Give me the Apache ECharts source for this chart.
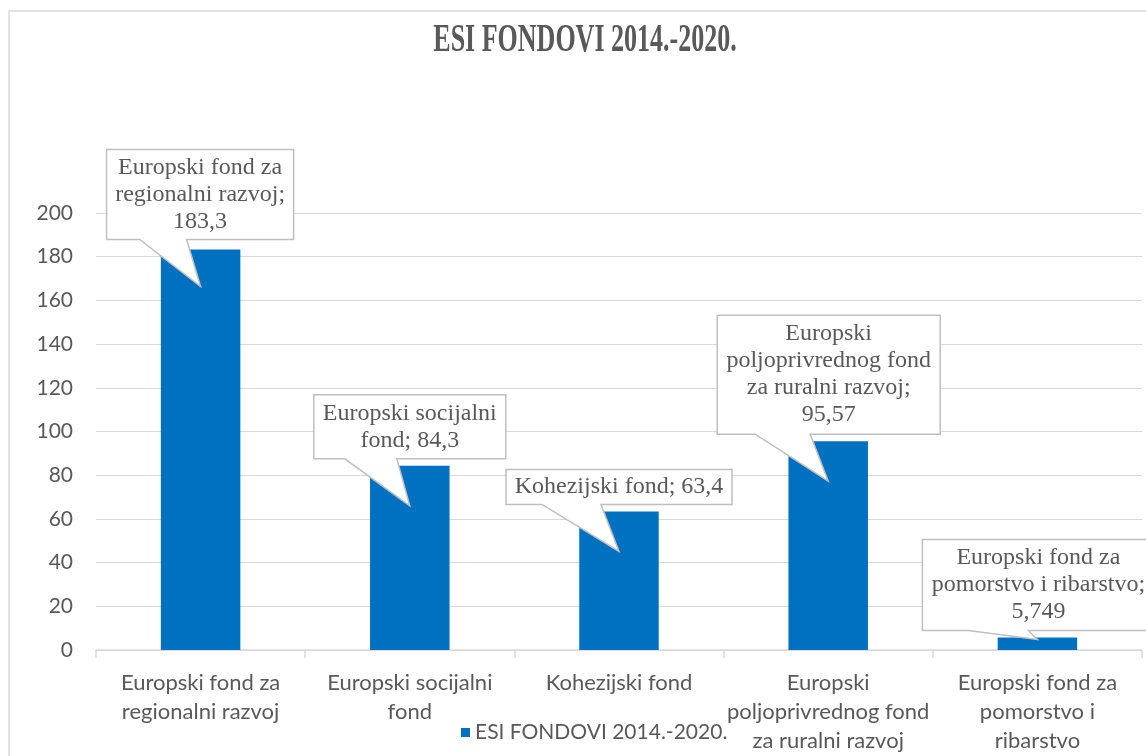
<!DOCTYPE html>
<html>
<head>
<meta charset="utf-8">
<style>
  html, body { margin: 0; padding: 0; background: #ffffff; }
  #chart { width: 1146px; height: 756px; }
</style>
<script src="https://cdn.jsdelivr.net/npm/echarts@6/dist/echarts.min.js"></script>
</head>
<body>
<div id="chart"></div>
<script>
// ---- data ----
const chartTitle = 'ESI FONDOVI 2014.-2020.';
const seriesName = 'ESI FONDOVI 2014.-2020.';
const categories = [
  'Europski fond za regionalni razvoj',
  'Europski socijalni fond',
  'Kohezijski fond',
  'Europski poljoprivrednog fond za ruralni razvoj',
  'Europski fond za pomorstvo i ribarstvo'
];
const tickLabels = [
  'Europski fond za\nregionalni razvoj',
  'Europski socijalni\nfond',
  'Kohezijski fond',
  'Europski\npoljoprivrednog fond\nza ruralni razvoj',
  'Europski fond za\npomorstvo i\nribarstvo'
];
// data-label name parts as wrapped in the callouts (value appended after)
const calloutNames = [
  'Europski fond za\nregionalni razvoj;\n',
  'Europski socijalni\nfond; ',
  'Kohezijski fond; ',
  'Europski\npoljoprivrednog fond\nza ruralni razvoj;\n',
  'Europski fond za\npomorstvo i ribarstvo;\n'
];
const values = [183.3, 84.3, 63.4, 95.57, 5.749];
const yTicks = { min: 0, max: 200, interval: 20 };

// ---- callout box layout (pixels, relative to the top of each bar) ----
const calloutLayout = [
  { left: -94,  top: -100, w: 187, h: 90,  baseL: -61, baseR: -14, tipY: 37 },
  { left: -96,  top: -71,  w: 192, h: 64,  baseL: -65, baseR: -13, tipY: 40 },
  { left: -113, top: -42,  w: 226, h: 35,  baseL: -77, baseR: -18, tipY: 40 },
  { left: -111, top: -126, w: 223, h: 119, baseL: -73, baseR: -18, tipY: 40 },
  { left: -115, top: -98,  w: 232, h: 91,  baseL: -69, baseR: -9,  tipY: 2 }
];

const fmt = v => String(v).replace('.', ',');
const gray = '#595959';
const sans = 'Lato';
const serif = '"Liberation Serif"';

const chart = echarts.init(document.getElementById('chart'), null, { renderer: 'canvas' });

const option = {
  backgroundColor: '#ffffff',
  animation: false,
  graphic: [
    {
      type: 'rect', silent: true, z: -10,
      shape: { x: 9, y: 11, width: 1400, height: 900 },
      style: { fill: 'none', stroke: '#d9d9d9', lineWidth: 1.5 }
    },
    {
      type: 'text', silent: true,
      x: 585, y: 40, scaleY: 1.57,
      style: {
        text: chartTitle, fill: gray,
        font: 'bold 26px ' + serif,
        align: 'center', verticalAlign: 'middle'
      }
    }
  ],
  legend: {
    data: [seriesName],
    left: 456, top: 717,
    icon: 'rect', itemWidth: 9, itemHeight: 9,
    textStyle: { fontFamily: sans, fontSize: 21, color: gray }
  },
  grid: { left: 96, right: 4, top: 213, bottom: 106, containLabel: false, outerBoundsMode: 'none' },
  xAxis: {
    type: 'category',
    data: categories,
    axisLine: { show: true, lineStyle: { color: '#d9d9d9', width: 1.5 } },
    axisTick: { show: true, length: 8, alignWithLabel: false, lineStyle: { color: '#d9d9d9', width: 1.5 } },
    axisLabel: {
      interval: 0, margin: 18,
      formatter: (v, i) => tickLabels[i],
      fontFamily: sans, fontSize: 22, lineHeight: 29, color: gray
    }
  },
  yAxis: {
    type: 'value',
    min: yTicks.min, max: yTicks.max, interval: yTicks.interval,
    axisLine: { show: false },
    axisTick: { show: false },
    axisLabel: { margin: 23, fontFamily: sans, fontSize: 21, color: gray },
    splitLine: { lineStyle: { color: '#d9d9d9', width: 1.2 } }
  },
  series: [
    {
      name: seriesName,
      type: 'bar',
      data: values,
      barWidth: '38%',
      itemStyle: { color: '#0070c0' }
    },
    {
      type: 'custom',
      name: 'callouts',
      z: 10,
      silent: true,
      data: values.map((v, i) => [i, v]),
      encode: { x: 0, y: 1 },
      renderItem: function (params, api) {
        const i = params.dataIndex;
        const p = api.coord([api.value(0), api.value(1)]);
        const L = calloutLayout[i];
        const x0 = p[0] + L.left, y0 = p[1] + L.top;
        const x1 = x0 + L.w, y1 = y0 + L.h;
        const pts = [
          [x0, y0], [x1, y0], [x1, y1],
          [p[0] + L.baseR, y1],
          [p[0], p[1] + L.tipY],
          [p[0] + L.baseL, y1],
          [x0, y1]
        ];
        return {
          type: 'group',
          children: [
            {
              type: 'polygon',
              shape: { points: pts },
              style: { fill: '#ffffff', stroke: '#bfbfbf', lineWidth: 1.5 }
            },
            {
              type: 'text',
              x: (x0 + x1) / 2, y: (y0 + y1) / 2,
              style: {
                text: calloutNames[i] + fmt(api.value(1)),
                align: 'center', verticalAlign: 'middle',
                font: '24px ' + serif, lineHeight: 27,
                fill: gray
              }
            }
          ]
        };
      }
    }
  ]
};

chart.setOption(option);
</script>
</body>
</html>
